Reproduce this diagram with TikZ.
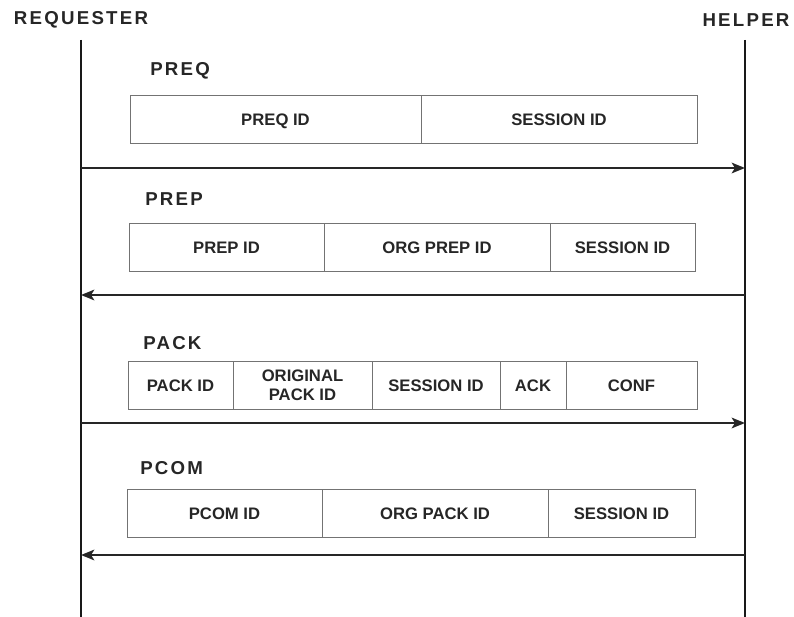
\documentclass[tikz,border=0pt]{standalone}
\usepackage{fontspec}
\setmainfont{Liberation Sans}
\usetikzlibrary{arrows.meta,positioning}

\begin{document}
\begin{tikzpicture}[x=0.75pt, y=-0.75pt, node distance=0pt,
    field/.style={draw=black!55, line width=0.7pt, minimum width=#1*0.75pt, minimum height=36pt, inner sep=0pt, outer sep=0pt, text height=9pt, text depth=0pt, align=center, font=\fontsize{12.5}{13.5}\selectfont\bfseries, text=black!85},
    lbl/.style={inner sep=0pt, font=\fontsize{14}{16}\selectfont\bfseries\addfontfeature{LetterSpace=12}, text=black!85},
    life/.style={line width=1.9pt, black!90},
    arr/.style={-{Stealth[length=10pt, width=8pt, inset=2.5pt]}, line width=1.5pt, black!85}]
    \useasboundingbox (0,0) rectangle (794,617);

    % lifelines
    \node[lbl] (requester) at (81,20) {REQUESTER};
    \node[lbl] (helper) at (746,20) {HELPER};
    \coordinate (reqtop) at (81,40);
    \coordinate (reqbot) at (81,617);
    \coordinate (helptop) at (745,40);
    \coordinate (helpbot) at (745,617);
    \draw[life] (reqtop) -- (reqbot);
    \draw[life] (helptop) -- (helpbot);

    % PREQ
    \node[lbl, anchor=west] (preq) at (150,71) {PREQ};
    \node[field=291, anchor=west] (preqid) at (130,119.5) {PREQ ID};
    \node[field=276, right=of preqid] (preqsess) {SESSION ID};
    \coordinate (req1) at (81,168);
    \coordinate (help1) at (745,168);
    \draw[arr] (req1) -- (help1);

    % PREP
    \node[lbl, anchor=west] (prep) at (145,199) {PREP};
    \node[field=195, anchor=west] (prepid) at (129,247.5) {PREP ID};
    \node[field=226, right=of prepid] (preporg) {ORG PREP ID};
    \node[field=145, right=of preporg] (prepsess) {SESSION ID};
    \coordinate (help2) at (745,295);
    \coordinate (req2) at (81,295);
    \draw[arr] (help2) -- (req2);

    % PACK
    \node[lbl, anchor=west] (pack) at (143,343) {PACK};
    \node[field=105, anchor=west] (packid) at (128,385.5) {PACK ID};
    \node[field=139, right=of packid, text height=, text depth=, font=\fontsize{12.5}{14}\selectfont\bfseries] (packorig) {ORIGINAL\\PACK ID};
    \node[field=128, right=of packorig] (packsess) {SESSION ID};
    \node[field=66, right=of packsess] (packack) {ACK};
    \node[field=131, right=of packack] (packconf) {CONF};
    \coordinate (req3) at (81,423);
    \coordinate (help3) at (745,423);
    \draw[arr] (req3) -- (help3);

    % PCOM
    \node[lbl, anchor=west] (pcom) at (140,468) {PCOM};
    \node[field=195, anchor=west] (pcomid) at (127,513.5) {PCOM ID};
    \node[field=226, right=of pcomid] (pcomorg) {ORG PACK ID};
    \node[field=147, right=of pcomorg] (pcomsess) {SESSION ID};
    \coordinate (help4) at (745,555);
    \coordinate (req4) at (81,555);
    \draw[arr] (help4) -- (req4);
\end{tikzpicture}
\end{document}
